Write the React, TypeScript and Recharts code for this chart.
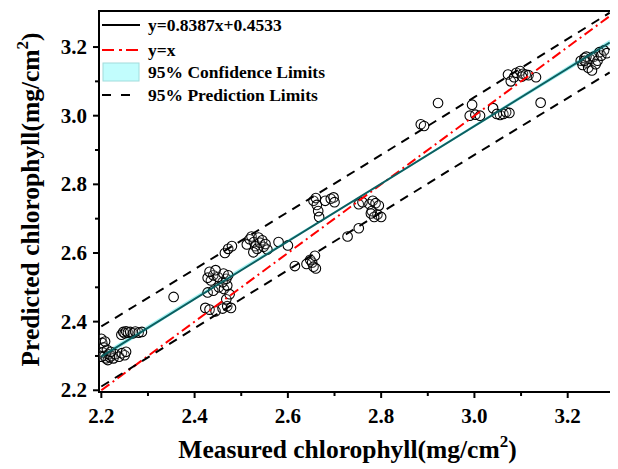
import React from 'react';
import { ComposedChart, XAxis, YAxis, Scatter, Area, ReferenceArea, Legend } from 'recharts';

// Measured (x) and predicted (y) chlorophyll values
const measuredValues = [
  2.200, 2.202, 2.205, 2.203, 2.207, 2.210, 2.214, 2.218, 2.212, 2.216, 2.222, 2.226, 2.230, 2.208, 2.220, 2.200,
  2.238, 2.244, 2.250, 2.253,
  2.243, 2.247, 2.250, 2.253, 2.257, 2.262, 2.268, 2.273, 2.280, 2.287,
  2.355,
  2.423, 2.432, 2.445, 2.460, 2.470, 2.478, 2.428, 2.440, 2.452, 2.463, 2.470, 2.460, 2.468, 2.435, 2.428, 2.440,
  2.450, 2.462, 2.472, 2.432, 2.445, 2.468, 2.475,
  2.465, 2.472, 2.480,
  2.512, 2.518, 2.522, 2.527, 2.530, 2.534, 2.537, 2.540, 2.545, 2.548, 2.552, 2.556, 2.526,
  2.580, 2.600,
  2.615, 2.640, 2.648, 2.652, 2.655, 2.658, 2.660,
  2.655, 2.660, 2.662, 2.665, 2.667, 2.680, 2.692, 2.698, 2.700,
  2.728, 2.752,
  2.752, 2.760, 2.775, 2.782, 2.788, 2.795, 2.780, 2.792, 2.800, 2.785, 2.778,
  2.885, 2.892, 2.922,
  2.995, 2.990, 3.002, 3.012, 3.040, 3.055, 3.062, 3.068, 3.075, 3.048,
  3.072, 3.078, 3.085, 3.090, 3.098, 3.104, 3.110, 3.116, 3.102, 3.132,
  3.142,
  3.228, 3.232, 3.236, 3.240, 3.244, 3.248, 3.252, 3.256, 3.260, 3.264, 3.268, 3.272, 3.278, 3.284, 3.240, 3.236,
];
const predictedValues = [
  2.350, 2.338, 2.325, 2.310, 2.300, 2.293, 2.288, 2.296, 2.318, 2.305, 2.300, 2.293, 2.305, 2.342, 2.312, 2.298,
  2.298, 2.308, 2.302, 2.312,
  2.362, 2.370, 2.366, 2.372, 2.368, 2.370, 2.366, 2.371, 2.368, 2.370,
  2.472,
  2.440, 2.435, 2.430, 2.438, 2.445, 2.440, 2.485, 2.490, 2.500, 2.495, 2.505, 2.515, 2.525, 2.520, 2.528, 2.535,
  2.530, 2.540, 2.535, 2.545, 2.550, 2.465, 2.480,
  2.600, 2.612, 2.620,
  2.625, 2.640, 2.648, 2.632, 2.620, 2.612, 2.645, 2.630, 2.637, 2.618, 2.626, 2.610, 2.602,
  2.632, 2.622,
  2.562, 2.568, 2.580, 2.572, 2.560, 2.592, 2.555,
  2.752, 2.760, 2.740, 2.722, 2.705, 2.752, 2.758, 2.762, 2.748,
  2.648, 2.672,
  2.742, 2.748, 2.742, 2.752, 2.745, 2.738, 2.722, 2.712, 2.705, 2.705, 2.715,
  2.975, 2.970, 3.037,
  3.032, 3.000, 3.003, 3.000, 3.022, 3.002, 3.005, 3.010, 3.008, 3.005,
  3.120, 3.100, 3.112, 3.125, 3.130, 3.122, 3.120, 3.118, 3.114, 3.112,
  3.038,
  3.160, 3.148, 3.168, 3.155, 3.140, 3.165, 3.132, 3.172, 3.150, 3.160, 3.185, 3.175, 3.190, 3.182, 3.172, 3.160,
];

// Lines (endpoints / sample points)
const fitLineX = [2.2, 3.29];
const fitLineY = [2.298, 3.213];
const identityX = [2.2, 3.295];
const identityY = [2.2, 3.295];
const predX = [2.2, 2.5, 2.75, 3.0, 3.29];
const predUpperY = [2.386, 2.636, 2.844, 3.054, 3.300];
const predLowerY = [2.211, 2.466, 2.676, 2.886, 3.126];
const confX = [2.2, 2.5, 2.75, 3.0, 3.29];
const confLowerY = [2.290, 2.550, 2.757, 2.966, 3.205];
const confUpperY = [2.306, 2.558, 2.762, 2.974, 3.221];

const xTicks = [2.2, 2.3, 2.4, 2.5, 2.6, 2.7, 2.8, 2.9, 3.0, 3.1, 3.2];
const yTicks = [2.2, 2.3, 2.4, 2.5, 2.6, 2.7, 2.8, 2.9, 3.0, 3.1, 3.2, 3.3];
const xDomain = [2.195, 3.295];
const yDomain = [2.195, 3.305];

const legendLabels = ['y=0.8387x+0.4533', 'y=x', '95% Confidence Limits', '95% Prediction Limits'];

const FONT = '"Liberation Serif", "Times New Roman", serif';
const TEAL = '#0b5f60';

const points = measuredValues.map((x, i) => ({ x, y: predictedValues[i] }));
const fitLine = fitLineX.map((x, i) => ({ x, y: fitLineY[i] }));
const identityLine = identityX.map((x, i) => ({ x, y: identityY[i] }));
const upperPred = predX.map((x, i) => ({ x, y: predUpperY[i] }));
const lowerPred = predX.map((x, i) => ({ x, y: predLowerY[i] }));
const confBand = confX.map((x, i) => ({ x, band: [confLowerY[i], confUpperY[i]] }));

const isMajor = (v: number) => Math.round(v * 10) % 2 === 0;

const XTick = (props: any) => {
  const { x, y, payload } = props;
  const v = payload.value;
  const major = isMajor(v);
  return (
    <g>
      <line x1={x} y1={y} x2={x} y2={y + (major ? 6 : 4)} stroke="#000" strokeWidth={2} />
      {major && (
        <text x={x} y={y + 31} textAnchor="middle" fontFamily={FONT} fontWeight="bold" fontSize={21} fill="#000">
          {v.toFixed(1)}
        </text>
      )}
    </g>
  );
};

const YTick = (props: any) => {
  const { x, y, payload } = props;
  const v = payload.value;
  const major = isMajor(v);
  if (v > 3.25) return <g />;
  return (
    <g>
      <line x1={x} y1={y} x2={x - (major ? 6 : 4)} y2={y} stroke="#000" strokeWidth={2} />
      {major && (
        <text x={x - 12} y={y + 7} textAnchor="end" fontFamily={FONT} fontWeight="bold" fontSize={21} fill="#000">
          {v.toFixed(1)}
        </text>
      )}
    </g>
  );
};

const Circle = (props: any) => {
  const { cx, cy } = props;
  if (cx == null || cy == null) return <g />;
  return <circle cx={cx} cy={cy} r={4.8} fill="#fff" fillOpacity={0.15} stroke="#000" strokeWidth={1.1} />;
};

const NoShape = () => <g />;

const XLabel = (props: any) => {
  const vb = props.viewBox || { x: 0, y: 0, width: 0, height: 0 };
  const cx = vb.x + vb.width / 2 - 8;
  return (
    <text x={cx} y={vb.y + 66} textAnchor="middle" fontFamily={FONT} fontWeight="bold" fontSize={25.5} fill="#000">
      <tspan>Measured chlorophyll(mg/cm</tspan>
      <tspan dy={-11} fontSize={17}>2</tspan>
      <tspan dy={11}>)</tspan>
    </text>
  );
};

const YLabel = (props: any) => {
  const vb = props.viewBox || { x: 0, y: 0, width: 0, height: 0 };
  const cx = 31;
  const cy = vb.y + vb.height / 2 - 2;
  return (
    <text
      x={cx}
      y={cy}
      transform={`rotate(-90 ${cx} ${cy})`}
      textAnchor="middle"
      fontFamily={FONT}
      fontWeight="bold"
      fontSize={25.5}
      fill="#000"
    >
      <tspan>Predicted chlorophyll(mg/cm</tspan>
      <tspan dy={-11} fontSize={17}>2</tspan>
      <tspan dy={11}>)</tspan>
    </text>
  );
};

const LegendContent = () => {
  const rows = [13, 38, 60, 83];
  return (
    <svg width={280} height={100} style={{ display: 'block' }}>
      <line x1={4} y1={rows[0]} x2={42} y2={rows[0]} stroke="#000" strokeWidth={2} />
      <line x1={4} y1={rows[1]} x2={42} y2={rows[1]} stroke="#ff0000" strokeWidth={2} strokeDasharray="12 5 3 4" />
      <rect x={5} y={rows[2] - 9} width={36} height={18} fill="#c2fdfd" stroke="#a2dcdc" strokeWidth={1} />
      <line x1={4} y1={rows[3]} x2={42} y2={rows[3]} stroke="#000" strokeWidth={2} strokeDasharray="9 10" />
      {legendLabels.map((label, i) => (
        <text key={label} x={50} y={rows[i] + 6} fontFamily={FONT} fontWeight="bold" fontSize={17.5} fill="#000">
          {label}
        </text>
      ))}
    </svg>
  );
};

export default function App() {
  return (
    <ComposedChart
      width={610}
      height={461}
      data={confBand}
      margin={{ top: 3, right: 6, bottom: 0, left: 0 }}
    >
      <XAxis
        dataKey="x"
        type="number"
        domain={xDomain}
        ticks={xTicks}
        allowDataOverflow
        interval={0}
        height={77}
        tickSize={0}
        tickMargin={0}
        tickLine={false}
        axisLine={{ stroke: '#000', strokeWidth: 2 }}
        tick={<XTick />}
        label={<XLabel />}
      />
      <YAxis
        type="number"
        domain={yDomain}
        ticks={yTicks}
        allowDataOverflow
        interval={0}
        width={91}
        tickSize={0}
        tickMargin={0}
        tickLine={false}
        axisLine={{ stroke: '#000', strokeWidth: 2 }}
        tick={<YTick />}
        label={<YLabel />}
      />
      <Legend
        layout="vertical"
        align="center"
        verticalAlign="middle"
        content={<LegendContent />}
        wrapperStyle={{ position: 'absolute', left: 90, top: 4, width: 280, height: 100 }}
      />
      <Area
        type="linear"
        dataKey="band"
        stroke="none"
        fill="#a6f2f2"
        fillOpacity={1}
        isAnimationActive={false}
        activeDot={false}
        dot={false}
      />
      <Scatter data={points} dataKey="y" shape={<Circle />} isAnimationActive={false} />
      <Scatter
        data={identityLine}
        dataKey="y"
        shape={<NoShape />}
        line={{ stroke: '#ff0000', strokeWidth: 2, strokeDasharray: '10 4 2 4' }}
        isAnimationActive={false}
      />
      <Scatter
        data={upperPred}
        dataKey="y"
        shape={<NoShape />}
        line={{ stroke: '#000', strokeWidth: 2, strokeDasharray: '9 7' }}
        isAnimationActive={false}
      />
      <Scatter
        data={lowerPred}
        dataKey="y"
        shape={<NoShape />}
        line={{ stroke: '#000', strokeWidth: 2, strokeDasharray: '9 7' }}
        isAnimationActive={false}
      />
      <Scatter
        data={fitLine}
        dataKey="y"
        shape={<NoShape />}
        line={{ stroke: TEAL, strokeWidth: 2 }}
        isAnimationActive={false}
      />
      <ReferenceArea
        x1={xDomain[0]}
        x2={xDomain[1]}
        y1={yDomain[0]}
        y2={yDomain[1]}
        fill="none"
        stroke="#000"
        strokeWidth={2}
        ifOverflow="visible"
      />
    </ComposedChart>
  );
}
